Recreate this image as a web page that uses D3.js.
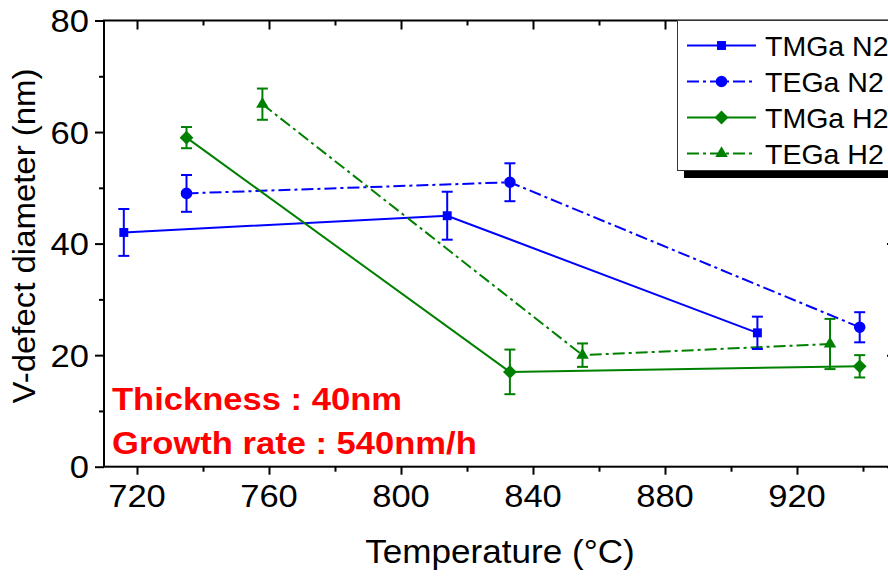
<!DOCTYPE html>
<html>
<head>
<meta charset="utf-8">
<script src="https://cdn.jsdelivr.net/npm/d3@7"></script>
<style>
  html, body { margin: 0; padding: 0; background: #fff; overflow: hidden; }
  svg { display: block; font-family: "Liberation Sans", Arial, sans-serif; }
</style>
</head>
<body>
<svg id="chart" width="888" height="577"></svg>
<script>
// ---- data ----
const seriesNames = ["TMGa N2", "TEGa N2", "TMGa H2", "TEGa H2"];
const tmgaN2Temp = [716, 814, 908];
const tmgaN2Val  = [42, 45, 24];
const tmgaN2Err  = [4.2, 4.3, 2.9];
const tegaN2Temp = [735, 833, 939];
const tegaN2Val  = [49, 51, 25];
const tegaN2Err  = [3.3, 3.4, 2.7];
const tmgaH2Temp = [735, 833, 939];
const tmgaH2Val  = [59, 17, 18];
const tmgaH2Err  = [1.9, 4.0, 2.0];
const tegaH2Temp = [758, 855, 930];
const tegaH2Val  = [65, 20, 22];
const tegaH2Err  = [2.8, 2.1, 4.5];
const xTicks = [720, 760, 800, 840, 880, 920];
const xMinorTicks = [740, 780, 820, 860, 900, 940];
const yTicks = [0, 20, 40, 60, 80];
const yMinorTicks = [10, 30, 50, 70];
const annotations = ["Thickness : 40nm", "Growth rate : 540nm/h"];
const xTitle = "Temperature (°C)";
const yTitle = "V-defect diameter (nm)";

// ---- build series ----
const BLUE = "#0000ff", GREEN = "#008000";
const mk = (t, v, e) => t.map((d, i) => ({ t: d, v: v[i], e: e[i] }));
const series = [
  { name: seriesNames[0], data: mk(tmgaN2Temp, tmgaN2Val, tmgaN2Err), color: BLUE,  dash: null,        sym: "square" },
  { name: seriesNames[1], data: mk(tegaN2Temp, tegaN2Val, tegaN2Err), color: BLUE,  dash: "12,4,3,4",  sym: "circle" },
  { name: seriesNames[2], data: mk(tmgaH2Temp, tmgaH2Val, tmgaH2Err), color: GREEN, dash: null,        sym: "diamond" },
  { name: seriesNames[3], data: mk(tegaH2Temp, tegaH2Val, tegaH2Err), color: GREEN, dash: "12,4,3,4",  sym: "triangle" }
];

const svg = d3.select("#chart");
const L = 104, R = 896, T = 20.5, B = 466.7;
const x = d3.scaleLinear().domain([710, 950]).range([L, R]);
const y = d3.scaleLinear().domain([0, 80]).range([B, T]);
const STRETCH = 1.08;

// ---- axes ----
const axW = 2;
function styleAxis(g) {
  g.select(".domain").remove();
  g.selectAll(".tick line").attr("stroke", "#000").attr("stroke-width", axW);
}
function addAxis(axisFn, scale, vals, size, tr) {
  const g = svg.append("g").attr("transform", tr)
    .call(axisFn(scale).tickValues(vals).tickSize(size).tickFormat(() => ""));
  styleAxis(g);
}
addAxis(d3.axisBottom, x, xTicks, 8, `translate(0,${B})`);
addAxis(d3.axisBottom, x, xMinorTicks, 5, `translate(0,${B})`);
addAxis(d3.axisBottom, x, xTicks, 9, `translate(0,${T})`);
addAxis(d3.axisBottom, x, xMinorTicks, 5, `translate(0,${T})`);
addAxis(d3.axisLeft, y, yTicks, 9, `translate(${L},0)`);
addAxis(d3.axisLeft, y, yMinorTicks, 5, `translate(${L},0)`);
addAxis(d3.axisLeft, y, yTicks, 9, `translate(${R},0)`);
addAxis(d3.axisLeft, y, yMinorTicks, 5, `translate(${R},0)`);

// frame
svg.append("rect").attr("x", L).attr("y", T).attr("width", R - L).attr("height", B - T)
  .attr("fill", "none").attr("stroke", "#000").attr("stroke-width", axW);

// tick labels
svg.append("g").selectAll("text").data(xTicks).join("text")
  .attr("transform", d => `translate(${x(d)},507) scale(${STRETCH},1)`)
  .attr("text-anchor", "middle").attr("font-size", 32).attr("fill", "#000")
  .text(d => d);
svg.append("g").selectAll("text").data(yTicks).join("text")
  .attr("transform", d => `translate(89,${y(d) + 11.5}) scale(${STRETCH},1)`)
  .attr("text-anchor", "end").attr("font-size", 32).attr("fill", "#000")
  .text(d => d);

// axis titles
svg.append("text")
  .attr("transform", `translate(500,563) scale(${STRETCH},1)`)
  .attr("text-anchor", "middle").attr("font-size", 32.5).attr("fill", "#000")
  .text(xTitle);
svg.append("text")
  .attr("transform", `translate(35,236) rotate(-90) scale(${STRETCH},1)`)
  .attr("text-anchor", "middle").attr("font-size", 30.5).attr("fill", "#000")
  .text(yTitle);

// annotations
svg.append("g").selectAll("text").data(annotations).join("text")
  .attr("transform", (d, i) => `translate(112,${409.5 + i * 44}) scale(${STRETCH},1)`)
  .attr("font-size", 32).attr("font-weight", "bold").attr("fill", "#ff0000")
  .text(d => d);

// ---- data marks ----
const symType = { square: d3.symbolSquare, circle: d3.symbolCircle, diamond: d3.symbolSquare, triangle: d3.symbolTriangle };
const symSize = { square: 80, circle: 105, diamond: 95, triangle: 68 };
const symRot  = { square: 0, circle: 0, diamond: 45, triangle: 0 };
const line = d3.line().x(d => x(d.t)).y(d => y(d.v));
const plot = svg.append("g");

series.forEach(s => {
  plot.append("path").datum(s.data).attr("d", line)
    .attr("fill", "none").attr("stroke", s.color).attr("stroke-width", 2)
    .attr("stroke-dasharray", s.dash);
});
series.forEach(s => {
  const g = plot.append("g").attr("stroke", s.color).attr("stroke-width", 2);
  s.data.forEach(d => {
    const cx = x(d.t), y1 = y(d.v + d.e), y2 = y(d.v - d.e);
    g.append("line").attr("x1", cx).attr("x2", cx).attr("y1", y1).attr("y2", y2);
    g.append("line").attr("x1", cx - 5.5).attr("x2", cx + 5.5).attr("y1", y1).attr("y2", y1);
    g.append("line").attr("x1", cx - 5.5).attr("x2", cx + 5.5).attr("y1", y2).attr("y2", y2);
  });
  plot.append("g").selectAll("path").data(s.data).join("path")
    .attr("transform", d => `translate(${x(d.t)},${y(d.v)}) rotate(${symRot[s.sym]})`)
    .attr("d", d3.symbol().type(symType[s.sym]).size(symSize[s.sym]))
    .attr("fill", s.color);
});

// ---- legend ----
const lg = svg.append("g");
lg.append("rect").attr("x", 684).attr("y", 27).attr("width", 260).attr("height", 151).attr("fill", "#000");
lg.append("rect").attr("x", 677.5).attr("y", 20.5).attr("width", 260).attr("height", 150)
  .attr("fill", "#fff").attr("stroke", "#333").attr("stroke-width", 1);
series.forEach((s, i) => {
  const cy = 45.5 + i * 36;
  lg.append("line").attr("x1", 687).attr("x2", 756).attr("y1", cy).attr("y2", cy)
    .attr("stroke", s.color).attr("stroke-width", 2).attr("stroke-dasharray", s.dash);
  lg.append("path").attr("transform", `translate(721.5,${cy}) rotate(${symRot[s.sym]})`)
    .attr("d", d3.symbol().type(symType[s.sym]).size(symSize[s.sym]))
    .attr("fill", s.color);
  lg.append("text").attr("transform", `translate(765,${cy + 10.5})`)
    .attr("font-size", 28.5).attr("fill", "#000").text(s.name);
});
</script>
</body>
</html>
